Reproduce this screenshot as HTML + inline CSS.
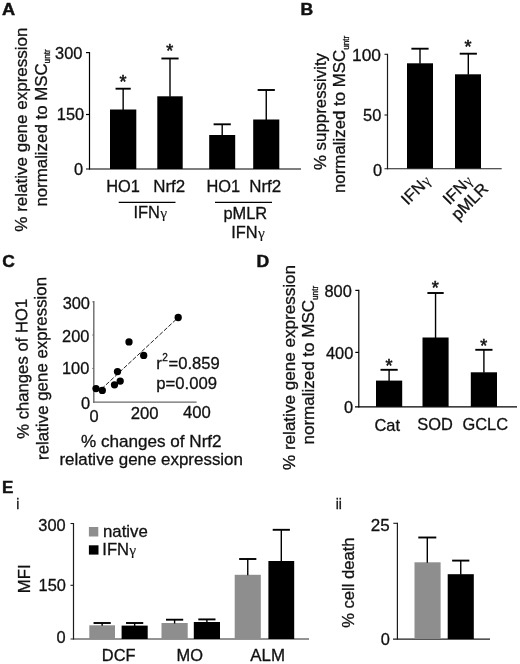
<!DOCTYPE html>
<html><head><meta charset="utf-8"><title>Figure</title>
<style>
html,body{margin:0;padding:0;background:#fff;}
svg{display:block;filter:blur(0.35px);font-family:"Liberation Sans",Arial,Helvetica,sans-serif;fill:#111;}
text{stroke:#111;stroke-width:0.3px;}
</style></head><body>
<svg width="520" height="664" viewBox="0 0 520 664">
<rect x="0" y="0" width="520" height="664" fill="#fff"/>
<text x="2" y="15" font-size="16" text-anchor="start" font-weight="bold" textLength="13.1" lengthAdjust="spacingAndGlyphs" style="stroke-width:0.45px">A</text>
<line x1="89.5" y1="52" x2="89.5" y2="169.6" stroke="#000" stroke-width="1.2"/>
<line x1="86" y1="169" x2="301" y2="169" stroke="#000" stroke-width="1.2"/>
<line x1="86" y1="52.6" x2="89.5" y2="52.6" stroke="#000" stroke-width="1.2"/>
<line x1="86" y1="114.5" x2="89.5" y2="114.5" stroke="#000" stroke-width="1.2"/>
<text x="82.4" y="59.2" font-size="16.4" text-anchor="end">300</text>
<text x="84.2" y="120.2" font-size="16.4" text-anchor="end">150</text>
<text x="83.2" y="175.4" font-size="16.4" text-anchor="end">0</text>
<rect x="110" y="109.5" width="26.3" height="59.5" fill="#000"/>
<line x1="123.15" y1="88.7" x2="123.15" y2="110.0" stroke="#000" stroke-width="1.4"/>
<line x1="115.55000000000001" y1="88.7" x2="130.75" y2="88.7" stroke="#000" stroke-width="1.9"/>
<text x="122.95" y="88.3" font-size="18" text-anchor="middle" style="stroke-width:0.55px">*</text>
<rect x="157.3" y="96.3" width="25.4" height="72.7" fill="#000"/>
<line x1="170.0" y1="58.5" x2="170.0" y2="96.8" stroke="#000" stroke-width="1.4"/>
<line x1="161.4" y1="58.5" x2="178.6" y2="58.5" stroke="#000" stroke-width="1.9"/>
<text x="169.8" y="57.1" font-size="18" text-anchor="middle" style="stroke-width:0.55px">*</text>
<rect x="209.2" y="135" width="26.0" height="34" fill="#000"/>
<line x1="222.2" y1="124.3" x2="222.2" y2="135.5" stroke="#000" stroke-width="1.4"/>
<line x1="213.6" y1="124.3" x2="230.79999999999998" y2="124.3" stroke="#000" stroke-width="1.9"/>
<rect x="253.2" y="119.5" width="26.1" height="49.5" fill="#000"/>
<line x1="266.25" y1="90" x2="266.25" y2="120.0" stroke="#000" stroke-width="1.4"/>
<line x1="257.65" y1="90" x2="274.85" y2="90" stroke="#000" stroke-width="1.9"/>
<text x="123" y="191.7" font-size="16.4" text-anchor="middle">HO1</text>
<text x="169.2" y="191.7" font-size="16.9" text-anchor="middle">Nrf2</text>
<text x="223.3" y="191.7" font-size="16.4" text-anchor="middle">HO1</text>
<text x="265.2" y="191.7" font-size="16.9" text-anchor="middle">Nrf2</text>
<line x1="118.7" y1="202.3" x2="175.5" y2="202.3" stroke="#000" stroke-width="1.15"/>
<line x1="215" y1="202.3" x2="272" y2="202.3" stroke="#000" stroke-width="1.15"/>
<text x="150.3" y="217.7" font-size="16.4" text-anchor="middle">IFN<tspan font-size="15.5" font-family="Liberation Serif, serif" dx="0.3" style="stroke-width:0.1px">γ</tspan></text>
<text x="245.3" y="218.8" font-size="16.4" text-anchor="middle">pMLR</text>
<text x="248" y="237.7" font-size="16.4" text-anchor="middle">IFN<tspan font-size="15.5" font-family="Liberation Serif, serif" dx="0.3" style="stroke-width:0.1px">γ</tspan></text>
<text x="27.5" y="129.6" font-size="17.0" text-anchor="middle" transform="rotate(-90 27.5 129.6)">% relative gene expression</text>
<text x="46.7" y="206.6" font-size="16.85" transform="rotate(-90 46.7 206.6)">normalized to MSC<tspan font-size="8.2" dy="3.6">untr</tspan></text>
<text x="300.5" y="15.4" font-size="16.2" text-anchor="start" font-weight="bold" textLength="12.7" lengthAdjust="spacingAndGlyphs" style="stroke-width:0.45px">B</text>
<line x1="387.5" y1="53.8" x2="387.5" y2="169.3" stroke="#1c1c1c" stroke-width="1.2"/>
<line x1="384.5" y1="168.8" x2="501.7" y2="168.8" stroke="#1c1c1c" stroke-width="1.1"/>
<line x1="384.5" y1="54.3" x2="387.5" y2="54.3" stroke="#1c1c1c" stroke-width="1.1"/>
<line x1="384.5" y1="115" x2="387.5" y2="115" stroke="#1c1c1c" stroke-width="1.1"/>
<text x="381" y="60.6" font-size="16.4" text-anchor="end" textLength="29" lengthAdjust="spacingAndGlyphs">100</text>
<text x="381.3" y="121" font-size="16.4" text-anchor="end">50</text>
<text x="382" y="175.6" font-size="16.4" text-anchor="end">0</text>
<rect x="407" y="63.3" width="26" height="105.2" fill="#000"/>
<line x1="420.0" y1="48.7" x2="420.0" y2="63.8" stroke="#000" stroke-width="1.4"/>
<line x1="411.4" y1="48.7" x2="428.6" y2="48.7" stroke="#000" stroke-width="1.9"/>
<rect x="455" y="74.3" width="26" height="94.2" fill="#000"/>
<line x1="468.3" y1="53.7" x2="468.3" y2="74.8" stroke="#000" stroke-width="1.4"/>
<line x1="459.7" y1="53.7" x2="476.90000000000003" y2="53.7" stroke="#000" stroke-width="1.9"/>
<text x="468.1" y="52.5" font-size="18" text-anchor="middle" style="stroke-width:0.55px">*</text>
<text x="325.8" y="111.5" font-size="16.87" text-anchor="middle" transform="rotate(-90 325.8 111.5)">% suppressivity</text>
<text x="345" y="193" font-size="16.85" transform="rotate(-90 345 193)">normalized to MSC<tspan font-size="8.2" dy="3.6">untr</tspan></text>
<text x="407.8" y="205.7" font-size="16.4" text-anchor="start" transform="rotate(-45 407.8 205.7)">IFN<tspan font-size="15.5" font-family="Liberation Serif, serif" dx="0.3" style="stroke-width:0.1px">γ</tspan></text>
<text x="449.5" y="205.6" font-size="16.4" text-anchor="start" transform="rotate(-45 449.5 205.6)">IFN<tspan font-size="15.5" font-family="Liberation Serif, serif" dx="0.3" style="stroke-width:0.1px">γ</tspan></text>
<text x="458" y="221" font-size="16.6" text-anchor="start" transform="rotate(-45 458 221)">pMLR</text>
<text x="2.2" y="266.7" font-size="16.3" text-anchor="start" font-weight="bold" textLength="12.6" lengthAdjust="spacingAndGlyphs" style="stroke-width:0.45px">C</text>
<line x1="93.8" y1="301" x2="93.8" y2="402.7" stroke="#6a6a6a" stroke-width="1.4"/>
<line x1="93.1" y1="402.1" x2="196.6" y2="402.1" stroke="#6a6a6a" stroke-width="1.4"/>
<line x1="92.3" y1="301.9" x2="93.8" y2="301.9" stroke="#6a6a6a" stroke-width="1"/>
<line x1="92.3" y1="335" x2="93.8" y2="335" stroke="#6a6a6a" stroke-width="1"/>
<line x1="92.3" y1="368.4" x2="93.8" y2="368.4" stroke="#6a6a6a" stroke-width="1"/>
<text x="90" y="308.5" font-size="16.4" text-anchor="end">300</text>
<text x="89.4" y="341.8" font-size="16.4" text-anchor="end">200</text>
<text x="89.3" y="374.4" font-size="16.4" text-anchor="end">100</text>
<text x="90" y="409" font-size="16.4" text-anchor="end">0</text>
<text x="94" y="421.6" font-size="16.4" text-anchor="middle">0</text>
<text x="144.6" y="419.3" font-size="16.7" text-anchor="middle">200</text>
<text x="196.8" y="418" font-size="16.7" text-anchor="middle">400</text>
<line x1="101.5" y1="389" x2="178.2" y2="317.5" stroke="#222" stroke-width="1" stroke-dasharray="4.4 1.7"/>
<circle cx="96" cy="388.6" r="3.65" fill="#000"/>
<circle cx="102.3" cy="390.4" r="3.65" fill="#000"/>
<circle cx="114.5" cy="384.8" r="3.65" fill="#000"/>
<circle cx="120.2" cy="381.1" r="3.65" fill="#000"/>
<circle cx="117.5" cy="371.6" r="3.65" fill="#000"/>
<circle cx="129" cy="341.9" r="3.65" fill="#000"/>
<circle cx="143.7" cy="355.4" r="3.65" fill="#000"/>
<circle cx="178.2" cy="317.5" r="3.65" fill="#000"/>
<text x="156.3" y="369.3" font-size="16.6">r<tspan font-size="10" dy="-8" dx="0.3">2</tspan><tspan dy="8" dx="0.8">=0.859</tspan></text>
<text x="156.3" y="389.3" font-size="16.7" text-anchor="start">p=0.009</text>
<text x="151.3" y="446.5" font-size="16.6" text-anchor="middle" textLength="140.6" lengthAdjust="spacingAndGlyphs">% changes of Nrf2</text>
<text x="151.2" y="465.2" font-size="16.7" text-anchor="middle" textLength="183.5" lengthAdjust="spacingAndGlyphs">relative gene expression</text>
<text x="27.9" y="368.8" font-size="16.7" text-anchor="middle" transform="rotate(-90.8 27.9 368.8)">% changes of HO1</text>
<text x="47.3" y="368.4" font-size="16.9" text-anchor="middle" transform="rotate(-90.8 47.3 368.4)">relative gene expression</text>
<text x="256.6" y="266.5" font-size="16.2" text-anchor="start" font-weight="bold" textLength="12.7" lengthAdjust="spacingAndGlyphs" style="stroke-width:0.45px">D</text>
<line x1="358.8" y1="289.8" x2="358.8" y2="407.4" stroke="#000" stroke-width="1.2"/>
<line x1="355" y1="406.8" x2="517" y2="406.8" stroke="#000" stroke-width="1.3"/>
<line x1="355.3" y1="290.4" x2="358.8" y2="290.4" stroke="#000" stroke-width="1.2"/>
<line x1="355.3" y1="352.4" x2="358.8" y2="352.4" stroke="#000" stroke-width="1.2"/>
<text x="351.8" y="297" font-size="16.4" text-anchor="end">800</text>
<text x="353.3" y="359" font-size="16.4" text-anchor="end">400</text>
<text x="353" y="413.4" font-size="16.4" text-anchor="end">0</text>
<rect x="376" y="380.6" width="26.2" height="26.2" fill="#000"/>
<line x1="389.1" y1="369.8" x2="389.1" y2="381.1" stroke="#000" stroke-width="1.4"/>
<line x1="380.5" y1="369.8" x2="397.70000000000005" y2="369.8" stroke="#000" stroke-width="1.9"/>
<text x="388.90000000000003" y="372.0" font-size="18" text-anchor="middle" style="stroke-width:0.55px">*</text>
<rect x="422.5" y="337.5" width="26.1" height="69.3" fill="#000"/>
<line x1="435.55" y1="293" x2="435.55" y2="338.0" stroke="#000" stroke-width="1.4"/>
<line x1="427.40000000000003" y1="293" x2="443.7" y2="293" stroke="#000" stroke-width="1.9"/>
<text x="435.35" y="294.1" font-size="18" text-anchor="middle" style="stroke-width:0.55px">*</text>
<rect x="470.8" y="372.3" width="26.2" height="34.5" fill="#000"/>
<line x1="483.9" y1="349.8" x2="483.9" y2="372.8" stroke="#000" stroke-width="1.4"/>
<line x1="475.29999999999995" y1="349.8" x2="492.5" y2="349.8" stroke="#000" stroke-width="1.9"/>
<text x="483.7" y="351.7" font-size="18" text-anchor="middle" style="stroke-width:0.55px">*</text>
<text x="387.2" y="430.5" font-size="16.4" text-anchor="middle">Cat</text>
<text x="435" y="430.3" font-size="16.4" text-anchor="middle">SOD</text>
<text x="485.3" y="430.3" font-size="16.4" text-anchor="middle">GCLC</text>
<text x="294.8" y="367.5" font-size="17.08" text-anchor="middle" transform="rotate(-90 294.8 367.5)">% relative gene expression</text>
<text x="314.2" y="444.5" font-size="17" transform="rotate(-90 314.2 444.5)">normalized to MSC<tspan font-size="8.2" dy="3.6">untr</tspan></text>
<text x="2" y="492.6" font-size="16.3" text-anchor="start" font-weight="bold" textLength="11.4" lengthAdjust="spacingAndGlyphs" style="stroke-width:0.45px">E</text>
<text x="16.2" y="508.9" font-size="13.8" text-anchor="start">i</text>
<line x1="73.5" y1="523" x2="73.5" y2="639.6" stroke="#1c1c1c" stroke-width="1.2"/>
<line x1="70.5" y1="639" x2="309" y2="639" stroke="#2a2a2a" stroke-width="1.15"/>
<line x1="70.5" y1="523.5" x2="73.5" y2="523.5" stroke="#1c1c1c" stroke-width="1.1"/>
<line x1="70.5" y1="585.3" x2="73.5" y2="585.3" stroke="#1c1c1c" stroke-width="1.1"/>
<text x="65.7" y="531.1" font-size="16.4" text-anchor="end">300</text>
<text x="65.9" y="591.4" font-size="16.4" text-anchor="end">150</text>
<text x="65.6" y="643.3" font-size="16.4" text-anchor="end">0</text>
<text x="30.5" y="578.8" font-size="16.8" text-anchor="middle" transform="rotate(-90 30.5 578.8)">MFI</text>
<rect x="88.9" y="527" width="9.4" height="9.5" fill="#8e8e8e"/>
<rect x="88.9" y="545.3" width="9.6" height="9.3" fill="#000"/>
<text x="103" y="536.7" font-size="16.8" text-anchor="start">native</text>
<text x="102.3" y="554.9" font-size="16.6" text-anchor="start">IFN<tspan font-size="15.5" font-family="Liberation Serif, serif" dx="0.3" style="stroke-width:0.1px">γ</tspan></text>
<rect x="89.3" y="625.3" width="25.7" height="13.7" fill="#8e8e8e"/>
<line x1="102.15" y1="623" x2="102.15" y2="625.8" stroke="#000" stroke-width="1.4"/>
<line x1="93.55000000000001" y1="623" x2="110.75" y2="623" stroke="#000" stroke-width="1.9"/>
<rect x="121.6" y="625.6" width="26.1" height="13.4" fill="#000"/>
<line x1="134.64999999999998" y1="623" x2="134.64999999999998" y2="626.1" stroke="#000" stroke-width="1.4"/>
<line x1="126.04999999999998" y1="623" x2="143.24999999999997" y2="623" stroke="#000" stroke-width="1.9"/>
<rect x="161.5" y="623" width="26.2" height="16" fill="#8e8e8e"/>
<line x1="174.6" y1="619.7" x2="174.6" y2="623.5" stroke="#000" stroke-width="1.4"/>
<line x1="166.0" y1="619.7" x2="183.2" y2="619.7" stroke="#000" stroke-width="1.9"/>
<rect x="193.8" y="622" width="26.2" height="17" fill="#000"/>
<line x1="206.9" y1="619.4" x2="206.9" y2="622.5" stroke="#000" stroke-width="1.4"/>
<line x1="198.3" y1="619.4" x2="215.5" y2="619.4" stroke="#000" stroke-width="1.9"/>
<rect x="234.7" y="574.8" width="26.1" height="64.2" fill="#8e8e8e"/>
<line x1="247.75" y1="559" x2="247.75" y2="575.3" stroke="#000" stroke-width="1.4"/>
<line x1="239.15" y1="559" x2="256.35" y2="559" stroke="#000" stroke-width="1.9"/>
<rect x="268.4" y="561" width="25.8" height="78" fill="#000"/>
<line x1="281.29999999999995" y1="529.8" x2="281.29999999999995" y2="561.5" stroke="#000" stroke-width="1.4"/>
<line x1="272.69999999999993" y1="529.8" x2="289.9" y2="529.8" stroke="#000" stroke-width="1.9"/>
<text x="118.7" y="661" font-size="16.4" text-anchor="middle">DCF</text>
<text x="189.8" y="661" font-size="16.4" text-anchor="middle">MO</text>
<text x="267.6" y="661" font-size="16.9" text-anchor="middle">ALM</text>
<text x="335.7" y="509" font-size="13.8" text-anchor="start">ii</text>
<text x="354" y="582.6" font-size="16.6" text-anchor="middle" transform="rotate(-90 354 582.6)">% cell death</text>
<line x1="397.4" y1="522.8" x2="397.4" y2="639.6" stroke="#1c1c1c" stroke-width="1.2"/>
<line x1="393" y1="639" x2="490" y2="639" stroke="#1c1c1c" stroke-width="1.25"/>
<line x1="393.3" y1="523.3" x2="397.4" y2="523.3" stroke="#1c1c1c" stroke-width="1.1"/>
<text x="389.6" y="530.8" font-size="17" text-anchor="end">25</text>
<text x="389.8" y="645.2" font-size="16.4" text-anchor="end">0</text>
<rect x="414.5" y="562.3" width="26.1" height="76.7" fill="#8e8e8e"/>
<line x1="427.3" y1="537.5" x2="427.3" y2="562.8" stroke="#000" stroke-width="1.4"/>
<line x1="418.3" y1="537.5" x2="436.3" y2="537.5" stroke="#000" stroke-width="1.9"/>
<rect x="447.7" y="574.2" width="26.1" height="64.8" fill="#000"/>
<line x1="460.75" y1="560.6" x2="460.75" y2="574.7" stroke="#000" stroke-width="1.4"/>
<line x1="452.15" y1="560.6" x2="469.35" y2="560.6" stroke="#000" stroke-width="1.9"/>
</svg>
</body></html>
